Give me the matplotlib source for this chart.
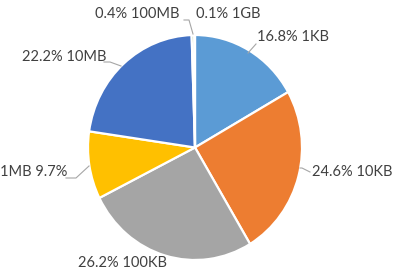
import matplotlib
matplotlib.use('Agg')
import matplotlib.pyplot as plt

# ── Data ──────────────────────────────────────────────────────────────────────
sizes = ["1KB", "10KB", "100KB", "1MB", "10MB", "100MB", "1GB"]
shares = [16.8, 24.6, 26.2, 9.7, 22.2, 0.4, 0.1]
colors = ["#5B9BD5", "#ED7D31", "#A5A5A5", "#FFC000", "#4472C4", "#70AD47", "#264478"]

# ── Geometry (pixels of the 395x275 canvas) ──────────────────────────────────
W, H = 395, 275
CX, CY = 195, 147.5        # pie centre
RX, RY = 107, 112.5        # slightly stretched, as in the reference
TXT = "#404040"
LEAD = "#A6A6A6"


def px(x, y):
    """pixel coords (origin top-left) -> data coords of the pie axes"""
    return (x - CX) / RX, (CY - y) / RY


fig = plt.figure(figsize=(W / 100, H / 100), dpi=100)
fig.patch.set_facecolor("white")
ax = fig.add_axes([0, 0, 1, 1])

ax.pie(shares, colors=colors, startangle=90, counterclock=False,
       wedgeprops=dict(edgecolor="white", linewidth=1.6))
ax.set_aspect('auto')
x0, y0 = px(0, H)
x1, y1 = px(W, 0)
ax.set_xlim(x0, x1)
ax.set_ylim(y0, y1)
ax.axis('off')

# ── Labels: (text, anchor px, ha) ────────────────────────────────────────────
fmt = {s: f"{v}% {s}" for s, v in zip(sizes, shares)}
fmt["1MB"] = f"1MB {shares[sizes.index('1MB')]}%"
label_pos = {
    "1KB":   (257, 37, 'left'),
    "10KB":  (312, 172, 'left'),
    "100KB": (78, 263, 'left'),
    "1MB":   (0, 172, 'left'),
    "10MB":  (22, 57, 'left'),
    "100MB": (95, 14, 'left'),
    "1GB":   (196, 14, 'left'),
}
for s in sizes:
    x, y, ha = label_pos[s]
    ax.text(*px(x, y), fmt[s], ha=ha, va='center', fontsize=10.5,
            family=['Lato', 'DejaVu Sans'], color=TXT)

# ── Leader lines ─────────────────────────────────────────────────────────────
leaders = [
    [(256, 44), (248, 53)],
    [(310, 172), (302, 168), (300, 168)],
    [(66, 178), (76, 178), (89, 166)],
    [(104, 62), (110, 62), (121, 66)],
    [(184, 20), (189, 20), (193, 34)],
]
for pts in leaders:
    xs, ys = zip(*[px(a, b) for a, b in pts])
    ax.plot(xs, ys, color=LEAD, lw=0.8, zorder=1)

fig.savefig("out.png", dpi=100, facecolor="white")
plt.close(fig)
